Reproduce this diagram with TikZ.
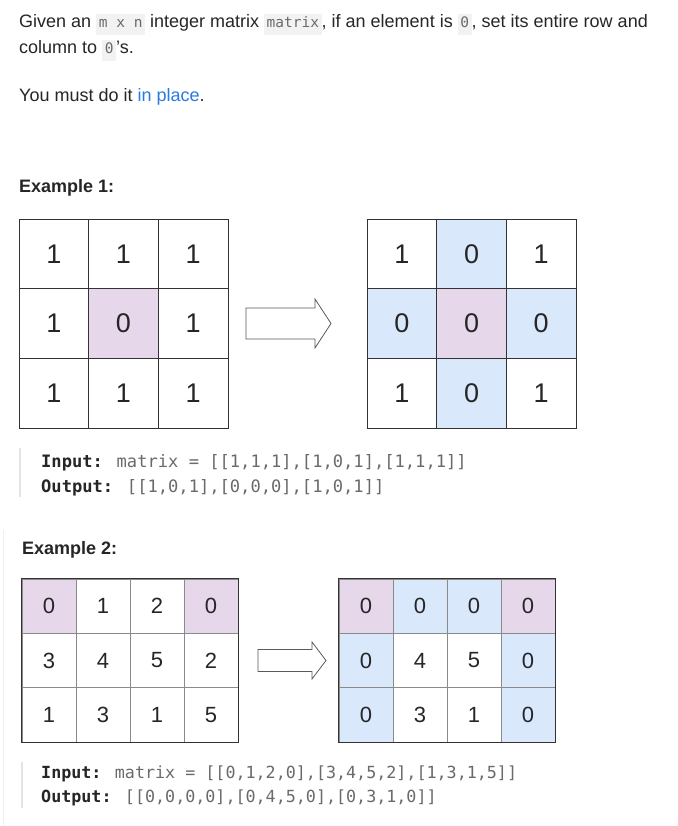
\documentclass[tikz,border=0pt]{standalone}
\usepackage{fontspec}
\setmainfont{Liberation Sans}
\newfontfamily\codefont{DejaVu Sans Mono}
\definecolor{pinkc}{HTML}{E6D8EA}
\definecolor{bluec}{HTML}{DAE8FC}
\definecolor{gridc}{HTML}{333333}
\definecolor{gridin}{HTML}{8A8A8A}
\definecolor{codebg}{HTML}{F2F2F2}
\definecolor{codetxt}{HTML}{6A6A6A}
\definecolor{textc}{HTML}{262626}
\definecolor{linkc}{HTML}{2A7AE2}
\definecolor{barc}{HTML}{E4E4E4}
\definecolor{arrowc}{HTML}{5A5A5A}
\newcommand{\ic}[1]{{\setlength{\fboxsep}{2.6pt}\colorbox{codebg}{\codefont\fontsize{14.5}{16}\selectfont\color{codetxt}\strut #1}}}
\tikzset{
  para/.style={anchor=base west, inner sep=0, text=textc, font=\fontsize{18}{21}\selectfont},
  heading/.style={anchor=base west, inner sep=0, text=textc, font=\bfseries\fontsize{18}{21}\selectfont},
  codeline/.style={anchor=base west, inner sep=0, text=codetxt, font=\codefont\fontsize{17.1}{20}\selectfont},
  codelineb/.style={codeline, font=\codefont\fontsize{16.7}{20}\selectfont},
  cellA/.style={draw=gridc, line width=0.9, minimum width=69.67, minimum height=69.67, inner sep=0, text=textc, font=\fontsize{27}{30}\selectfont},
  cellB/.style={draw=gridin, line width=0.8, minimum width=54, minimum height=54.33, inner sep=0, text=textc, font=\fontsize{22}{26}\selectfont},
  bigarrow/.style={draw=arrowc, line width=0.8, fill=white, line join=miter},
  codebar/.style={draw=barc, line width=2},
}
\begin{document}
\begin{tikzpicture}[x=1pt,y=-1pt]
\useasboundingbox (0,0) rectangle (677,826);
\fill[white] (0,0) rectangle (677,826);
% faint left border
\draw[draw=barc!60, line width=1] (3,530) -- (3,826);
% intro text
\node[para] (t1) at (19,28) {Given an \ic{m x n} integer matrix \ic{matrix}, if an element is \ic{0}, set its entire row and};
\node[para] (t2) at (19,54) {column to \ic{0}'s.};
\node[para] (t3) at (19,102) {You must do it \textcolor{linkc}{in place}.};
% Example 1
\node[heading] (h1) at (19,193) {Example 1:};
\foreach \r/\c/\v/\f in {1/1/1/white,1/2/1/white,1/3/1/white,2/1/1/white,2/2/0/pinkc,2/3/1/white,3/1/1/white,3/2/1/white,3/3/1/white}
  \node[cellA, fill=\f] (A-\r-\c) at ({19+69.67*(\c-0.5)},{219+69.67*(\r-0.5)}) {\v};
\foreach \r/\c/\v/\f in {1/1/1/white,1/2/0/bluec,1/3/1/white,2/1/0/bluec,2/2/0/pinkc,2/3/0/bluec,3/1/1/white,3/2/0/bluec,3/3/1/white}
  \node[cellA, fill=\f] (B-\r-\c) at ({367+69.67*(\c-0.5)},{219+69.67*(\r-0.5)}) {\v};
\draw[bigarrow] (246,308) -- (315,308) -- (315,299) -- (331,323.5) -- (315,348) -- (315,339) -- (246,339) -- cycle;
\draw[codebar] (20,448) -- (20,497);
\node[codeline] (c1) at (41,467) {\textbf{\color{textc}Input:} matrix = [[1,1,1],[1,0,1],[1,1,1]]};
\node[codeline] (c2) at (41,492) {\textbf{\color{textc}Output:} [[1,0,1],[0,0,0],[1,0,1]]};
% Example 2
\node[heading] (h2) at (22,554) {Example 2:};
\foreach \r/\c/\v/\f in {1/1/0/pinkc,1/2/1/white,1/3/2/white,1/4/0/pinkc,2/1/3/white,2/2/4/white,2/3/5/white,2/4/2/white,3/1/1/white,3/2/3/white,3/3/1/white,3/4/5/white}
  \node[cellB, fill=\f] (C-\r-\c) at ({22+54*(\c-0.5)},{579+54.33*(\r-0.5)}) {\v};
\draw[draw=gridc, line width=0.9] (C-1-1.north west) rectangle (C-3-4.south east);
\foreach \r/\c/\v/\f in {1/1/0/pinkc,1/2/0/bluec,1/3/0/bluec,1/4/0/pinkc,2/1/0/bluec,2/2/4/white,2/3/5/white,2/4/0/bluec,3/1/0/bluec,3/2/3/white,3/3/1/white,3/4/0/bluec}
  \node[cellB, fill=\f] (D-\r-\c) at ({339+54*(\c-0.5)},{579+54.33*(\r-0.5)}) {\v};
\draw[draw=gridc, line width=0.9] (D-1-1.north west) rectangle (D-3-4.south east);
\draw[bigarrow] (258,649.5) -- (312,649.5) -- (312,642) -- (326,660.5) -- (312,679) -- (312,671.5) -- (258,671.5) -- cycle;
\draw[codebar] (22,762) -- (22,808);
\node[codelineb] (c3) at (41,778) {\textbf{\color{textc}Input:} matrix = [[0,1,2,0],[3,4,5,2],[1,3,1,5]]};
\node[codelineb] (c4) at (41,802) {\textbf{\color{textc}Output:} [[0,0,0,0],[0,4,5,0],[0,3,1,0]]};
\end{tikzpicture}
\end{document}
